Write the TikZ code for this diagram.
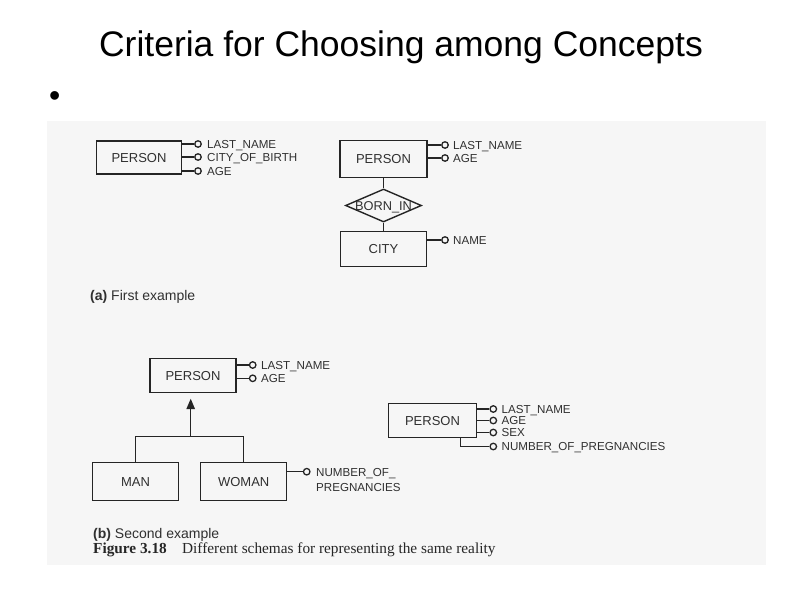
\documentclass[tikz,border=0pt]{standalone}
\usepackage{fontspec}
\setmainfont{Liberation Sans}
\newfontfamily\serifcap{Liberation Serif}
\usetikzlibrary{shapes.geometric,arrows.meta}
\definecolor{ink}{HTML}{252525}
\definecolor{scanbg}{HTML}{F6F6F6}
\definecolor{txt}{HTML}{303030}
\begin{document}
\begin{tikzpicture}[x=1pt,y=-1pt,
  ent/.style={draw=ink, line width=1.4pt, inner sep=0pt, text height=9pt, text depth=0pt, text=txt, font=\fontsize{13}{15}\selectfont},
  dot/.style={circle, draw=ink, line width=1.3pt, fill=scanbg, minimum size=6.5pt, inner sep=0pt},
  attr/.style={anchor=base west, inner sep=0pt, text=txt, font=\fontsize{11.6}{13}\selectfont},
  link/.style={draw=ink, line width=1.4pt},
  caption/.style={anchor=base west, inner sep=0pt, text=txt, font=\fontsize{14}{16}\selectfont},
]
\useasboundingbox (0,0) rectangle (800,600);
\fill[scanbg] (47,121) rectangle (766,565);

\node[anchor=base, inner sep=0pt, font=\fontsize{35.5}{40}\selectfont] (title) at (401,56) {Criteria for Choosing among Concepts};
\node[inner sep=0pt, font=\fontsize{32}{34}\selectfont] (bul) at (54.7,98.7) {\textbullet};

% ---------- (a) left
\node[ent, minimum width=85pt, minimum height=33pt] (pa) at (139,157.5) {PERSON};
\node[dot] (pa1) at (198,144) {};
\node[dot] (pa2) at (198,157) {};
\node[dot] (pa3) at (198,171) {};
\draw[link] (pa.east |- pa1) -- (pa1.west);
\draw[link] (pa.east |- pa2) -- (pa2.west);
\draw[link] (pa.east |- pa3) -- (pa3.west);
\node[attr] (pa1t) at (207,148.2) {LAST\_NAME};
\node[attr] (pa2t) at (207,161.2) {CITY\_OF\_BIRTH};
\node[attr] (pa3t) at (207,175.2) {AGE};

% ---------- (a) right
\node[ent, minimum width=87pt, minimum height=37pt] (pb) at (383.5,159) {PERSON};
\node[dot] (pb1) at (445,145) {};
\node[dot] (pb2) at (445,158) {};
\draw[link] (pb.east |- pb1) -- (pb1.west);
\draw[link] (pb.east |- pb2) -- (pb2.west);
\node[attr] (pb1t) at (453,149.2) {LAST\_NAME};
\node[attr] (pb2t) at (453,162.2) {AGE};
\node[diamond, draw=ink, line width=1.4pt, minimum width=76pt, minimum height=33pt, inner sep=0pt, aspect=2.3] (born) at (383.5,205.5) {};
\node[inner sep=0pt, text height=9pt, text depth=0pt, text=txt, font=\fontsize{12.8}{14}\selectfont] (borntxt) at (born.center) {BORN\_IN};
\node[ent, minimum width=86pt, minimum height=35pt] (city) at (383.5,249.2) {CITY};
\node[dot] (city1) at (445,240) {};
\draw[link] (city.east |- city1) -- (city1.west);
\node[attr] (city1t) at (453,244.2) {NAME};
\draw[link] (pb.south) -- (born.north);
\draw[link] (born.south) -- (city.north);

\node[caption] (capa) at (90,300) {\textbf{(a)} First example};

% ---------- (b) left
\node[ent, minimum width=86pt, minimum height=34pt] (pc) at (193,375.5) {PERSON};
\node[dot] (pc1) at (252.7,365) {};
\node[dot] (pc2) at (252.7,378.3) {};
\draw[link] (pc.east |- pc1) -- (pc1.west);
\draw[link] (pc.east |- pc2) -- (pc2.west);
\node[attr] (pc1t) at (261,369.2) {LAST\_NAME};
\node[attr] (pc2t) at (261,382.5) {AGE};
\coordinate (isa) at (190.7,436.2);
\node[ent, minimum width=86pt, minimum height=38pt] (man) at (135.5,481.7) {MAN};
\node[ent, minimum width=86pt, minimum height=38pt] (woman) at (243.7,481.7) {WOMAN};
\draw[link] (man.north) |- (isa) -| (woman.north);
\draw[link, -{Triangle[length=10.5pt,width=8.5pt]}, shorten >=5.5pt] (isa) -- (isa |- pc.south);
\node[dot] (w1) at (306.7,471.7) {};
\draw[link] (woman.east |- w1) -- (w1.west);
\node[anchor=north west, inner sep=0pt, align=left, text=txt, font=\fontsize{11.6}{14.5}\selectfont] (w1t) at (316,468.5) {NUMBER\_OF\_\\PREGNANCIES};

% ---------- (b) right
\node[ent, minimum width=88pt, minimum height=34pt] (pd) at (432.5,420.5) {PERSON};
\node[dot] (pd1) at (493.3,409) {};
\node[dot] (pd2) at (493.3,420.5) {};
\node[dot] (pd3) at (493.3,432.5) {};
\node[dot] (pd4) at (493.3,446.5) {};
\draw[link] (pd.east |- pd1) -- (pd1.west);
\draw[link] (pd.east |- pd2) -- (pd2.west);
\draw[link] (pd.east |- pd3) -- (pd3.west);
\draw[link] ([xshift=28pt]pd.south) |- (pd4.west);
\node[attr] (pd1t) at (501.5,413.2) {LAST\_NAME};
\node[attr] (pd2t) at (501.5,424.7) {AGE};
\node[attr] (pd3t) at (501.5,436.7) {SEX};
\node[attr] (pd4t) at (501.5,450.7) {NUMBER\_OF\_PREGNANCIES};

\node[caption] (capb) at (93,538) {\textbf{(b)} Second example};
\node[anchor=base west, inner sep=0pt, text=black!85, font=\serifcap\fontsize{15.3}{18}\selectfont] (fig) at (93,553.5) {\textbf{Figure 3.18}\hspace{1em}Different schemas for representing the same reality};
\end{tikzpicture}
\end{document}
